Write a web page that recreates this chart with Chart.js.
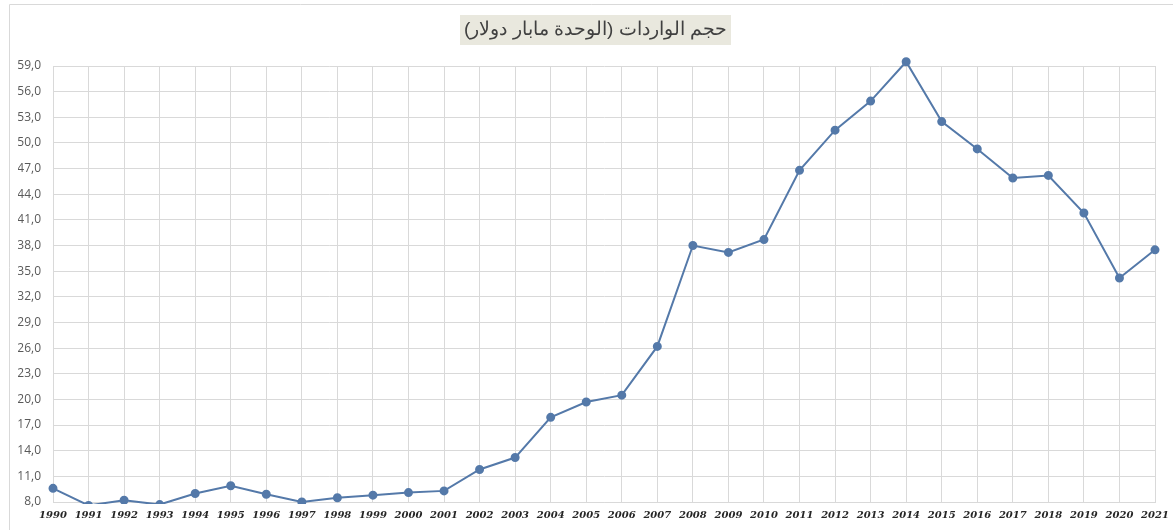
<!DOCTYPE html>
<html>
<head>
<meta charset="utf-8">
<script src="https://cdn.jsdelivr.net/npm/chart.js@4/dist/chart.umd.min.js"></script>
<style>
  html, body { margin: 0; padding: 0; background: #fff; }
  #lineChart { display: block; }
</style>
</head>
<body>
<canvas id="lineChart" width="1173" height="530"></canvas>
<script>
const years = [
  '1990', '1991', '1992', '1993', '1994', '1995', '1996', '1997',
  '1998', '1999', '2000', '2001', '2002', '2003', '2004', '2005',
  '2006', '2007', '2008', '2009', '2010', '2011', '2012', '2013',
  '2014', '2015', '2016', '2017', '2018', '2019', '2020', '2021',
];
// imports, billion dollars
const imports = [
  9.6, 7.6, 8.2, 7.7, 9.0, 9.9, 8.9, 8.0,
  8.5, 8.8, 9.1, 9.3, 11.8, 13.2, 17.9, 19.7,
  20.5, 26.2, 38.0, 37.2, 38.7, 46.8, 51.5, 54.9,
  59.5, 52.5, 49.3, 45.9, 46.2, 41.8, 34.2, 37.5,
];
const chartTitle = 'حجم الواردات (الوحدة مابار دولار)';

const gridColor = '#d9d9d9';
const lineColor = '#5479a9';
const titleFont = '"Liberation Sans", Arial, sans-serif';

// beige box behind the title, plus the thin outer frame
const titleBox = {
  id: 'titleBox',
  beforeDraw(chart) {
    const { ctx } = chart;
    const t = chart.titleBlock;
    ctx.save();
    ctx.strokeStyle = '#d9d9d9';
    ctx.lineWidth = 1;
    ctx.beginPath();
    ctx.moveTo(9.5, 530);
    ctx.lineTo(9.5, 4.5);
    ctx.lineTo(1173, 4.5);
    ctx.stroke();
    if (t) {
      ctx.font = '19px ' + titleFont;
      const w = ctx.measureText(chartTitle).width + 8;
      const cx = (t.left + t.right) / 2;
      ctx.fillStyle = '#e9e8de';
      ctx.fillRect(Math.round(cx - w / 2), t.top, Math.round(w), 30);
    }
    ctx.restore();
  },
};

const lineChart = new Chart(document.getElementById('lineChart'), {
  type: 'line',
  data: {
    labels: years,
    datasets: [
      {
        data: imports,
        borderColor: lineColor,
        backgroundColor: lineColor,
        borderWidth: 2,
        pointRadius: 3.5,
        pointBackgroundColor: lineColor,
        pointBorderColor: lineColor,
        lineTension: 0,
        fill: false,
        clip: { left: false, top: false, right: false, bottom: 2 },
      },
    ],
  },
  options: {
    responsive: false,
    animation: false,
    devicePixelRatio: 1,
    layout: { padding: { top: 15, right: 0, bottom: 0, left: 18 } },
    plugins: {
      legend: { display: false },
      tooltip: { enabled: false },
      title: {
        display: true,
        text: chartTitle,
        color: '#404040',
        font: { family: titleFont, size: 19, weight: 'normal', lineHeight: 1.58 },
        padding: { top: 0, bottom: 21 },
      },
    },
    scales: {
      x: {
        offset: false,
        grid: { color: gridColor, drawTicks: false },
        border: { color: gridColor },
        ticks: {
          color: '#262626',
          padding: 7,
          maxRotation: 0,
          autoSkip: false,
          font: { family: '"DejaVu Serif", serif', size: 10, style: 'italic', weight: 'bold' },
        },
        afterFit(scale) {
          scale.height = 28;
          scale.paddingRight = 18;
        },
      },
      y: {
        min: 8,
        max: 59,
        grid: { color: gridColor, drawTicks: false },
        border: { color: gridColor },
        ticks: {
          stepSize: 3,
          color: '#595959',
          padding: 12,
          font: { family: '"Open Sans", "Liberation Sans", sans-serif', size: 12 },
          callback: value => value.toFixed(1).replace('.', ','),
        },
        afterFit(scale) { scale.width = 35; },
      },
    },
  },
  plugins: [titleBox],
});
</script>
</body>
</html>
